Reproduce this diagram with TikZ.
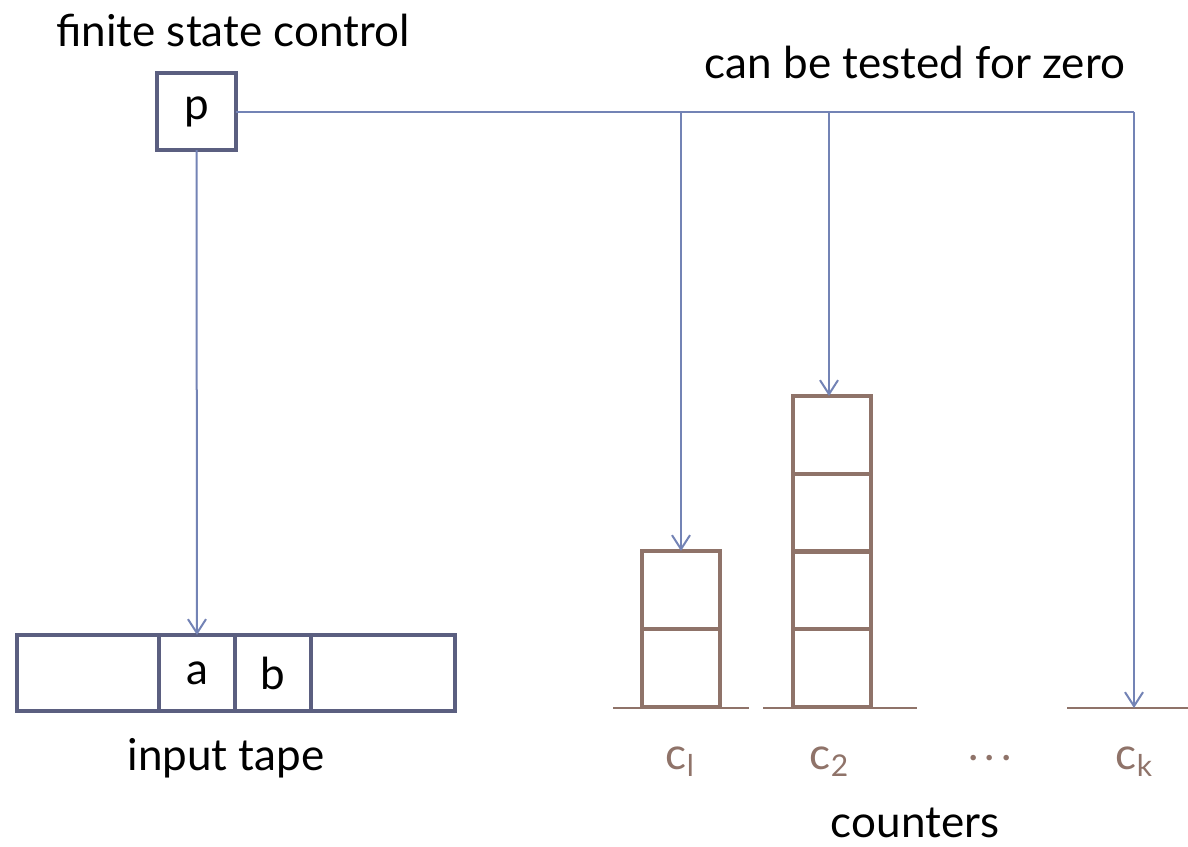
\documentclass[tikz,border=0pt]{standalone}
\usepackage{fontspec}
\setmainfont{Lato}
\usetikzlibrary{arrows.meta}
\definecolor{boxc}{HTML}{5B5F80}
\definecolor{linec}{HTML}{7383B5}
\definecolor{brownc}{HTML}{8F7369}
\tikzset{
  tapecell/.style={draw=boxc, line width=4pt, minimum height=76pt, inner sep=0pt, outer sep=0pt, font=\fontsize{44}{50}\selectfont, text=black},
  ctrcell/.style={draw=brownc, line width=4pt, minimum width=78pt, minimum height=78pt, inner sep=0pt, outer sep=0pt},
  conn/.style={draw=linec, line width=2pt},
  arr/.style={conn, -{Straight Barb[length=14pt,width=18pt,line width=2pt]}},
  base/.style={draw=brownc, line width=2pt},
  lbl/.style={font=\fontsize{44}{50}\selectfont, text=black, inner sep=0pt},
  clbl/.style={font=\fontsize{44}{50}\selectfont, text=brownc, inner sep=0pt},
}
\newcommand{\sbs}[1]{\raisebox{-0.3ex}{\fontsize{30}{34}\selectfont #1}}
\begin{document}
\begin{tikzpicture}[x=1pt,y=-1pt]
\useasboundingbox (0,0) rectangle (1188,846);
% finite state control
\node[tapecell, minimum width=79pt, minimum height=77pt] (p) at (196.5,111.5) {p};
\node[lbl] (fsc) at (233,30) {finite state control};
\node[lbl] (test) at (915,62) {can be tested for zero};
% input tape
\node[tapecell, minimum width=142pt] (t1) at (88,673) {};
\node[tapecell, minimum width=76pt] (ta) at (197,673) {a};
\node[tapecell, minimum width=76pt] (tb) at (273,673) {b};
\node[tapecell, minimum width=144pt] (t4) at (383,673) {};
\node[lbl] (inp) at (226,758) {input tape};
% counters
\node[ctrcell] (c1b) at (681,668) {};
\node[ctrcell] (c1a) at (681,590) {};
\node[ctrcell] (c2d) at (832,668) {};
\node[ctrcell] (c2c) at (832,590) {};
\node[ctrcell] (c2b) at (832,513) {};
\node[ctrcell] (c2a) at (832,435) {};
\coordinate (b1l) at (613,708); \coordinate (b1r) at (749,708);
\coordinate (b2l) at (763,708); \coordinate (b2r) at (917,708);
\coordinate (bkl) at (1067,708); \coordinate (bkr) at (1188,708);
\coordinate (bk) at (1134,708);
\draw[base] (b1l) -- (b1r);
\draw[base] (b2l) -- (b2r);
\draw[base] (bkl) -- (bkr);
\node[clbl] (l1) at (680,762) {c\sbs{l}};
\node[clbl] (l2) at (829,762) {c\sbs{2}};
\node[clbl] (ld) at (990,758) {.\hspace{6pt}.\hspace{6pt}.};
\node[clbl] (lk) at (1134,762) {c\sbs{k}};
\node[lbl] (ctr) at (915,823) {counters};
% connectors
\coordinate (j1) at (681,112);
\coordinate (j2) at (829,112);
\coordinate (jk) at (1134,112);
\draw[conn] (p.east |- j1) -- (jk);
\draw[arr] (p.south) -- (ta.north);
\draw[arr] (j1) -- (c1a.north);
\draw[arr] (j2) -- (j2 |- c2a.north);
\draw[arr] (jk) -- (bk);
\end{tikzpicture}
\end{document}
